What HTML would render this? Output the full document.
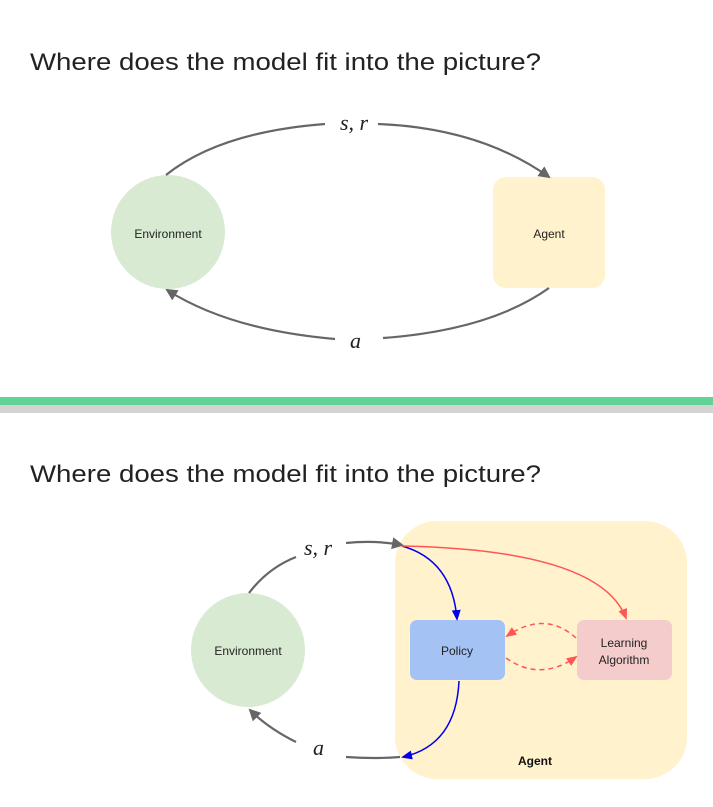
<!DOCTYPE html>
<html><head><style>
body{margin:0;background:#fff;}
svg{display:block;}
text{font-family:"Liberation Sans",sans-serif;}
.m{font-family:"Liberation Serif",serif;font-style:italic;font-size:22px;fill:#222;}
</style></head><body>
<svg width="713" height="807" viewBox="0 0 713 807" xmlns="http://www.w3.org/2000/svg">
<defs>
<marker id="ag" markerWidth="12" markerHeight="12" refX="10" refY="6" orient="auto" markerUnits="userSpaceOnUse"><path d="M0,0 L12,6 L0,12 Z" fill="#666"/></marker>
<marker id="ab" markerWidth="11" markerHeight="11" refX="9" refY="5.5" orient="auto" markerUnits="userSpaceOnUse"><path d="M0,1 L11,5.5 L0,10 Z" fill="#0000ee"/></marker>
<marker id="ar" markerWidth="11" markerHeight="11" refX="9" refY="5.5" orient="auto" markerUnits="userSpaceOnUse"><path d="M0,1 L11,5.5 L0,10 Z" fill="#f55"/></marker>
</defs>
<rect width="713" height="807" fill="#fff"/>
<text x="30" y="70" font-size="24" fill="#222" textLength="511" lengthAdjust="spacingAndGlyphs">Where does the model fit into the picture?</text>
<circle cx="168" cy="232" r="57" fill="#d9ead3"/>
<text x="168" y="238" font-size="12" fill="#222" text-anchor="middle">Environment</text>
<rect x="493" y="177" width="112" height="111" rx="13" fill="#fff2cc"/>
<text x="549" y="238" font-size="12" fill="#222" text-anchor="middle">Agent</text>
<path d="M166,175 Q220,132 325,124" fill="none" stroke="#666" stroke-width="2.2"/>
<path d="M378,124 Q480,128 549,177" fill="none" stroke="#666" stroke-width="2.2" marker-end="url(#ag)"/>
<text x="340" y="130" class="m">s, r</text>
<path d="M549,288 Q490,330 383,338" fill="none" stroke="#666" stroke-width="2.2"/>
<path d="M335,339 Q230,330 167,290" fill="none" stroke="#666" stroke-width="2.2" marker-end="url(#ag)"/>
<text x="350" y="348" class="m">a</text>
<rect x="0" y="397" width="713" height="8" fill="#62d296"/>
<rect x="0" y="405" width="713" height="8" fill="#d3d3d3"/>
<text x="30" y="482" font-size="24" fill="#222" textLength="511" lengthAdjust="spacingAndGlyphs">Where does the model fit into the picture?</text>
<rect x="395" y="521" width="292" height="258" rx="42" fill="#fff2cc"/>
<circle cx="248" cy="650" r="57" fill="#d9ead3"/>
<text x="248" y="655" font-size="12" fill="#222" text-anchor="middle">Environment</text>
<rect x="410" y="620" width="95" height="60" rx="7" fill="#a4c2f4"/>
<text x="457" y="655" font-size="12" fill="#222" text-anchor="middle">Policy</text>
<rect x="577" y="620" width="95" height="60" rx="7" fill="#f4cccc"/>
<text x="624" y="647" font-size="12" fill="#222" text-anchor="middle">Learning</text>
<text x="624" y="664" font-size="12" fill="#222" text-anchor="middle">Algorithm</text>
<text x="535" y="765" font-size="12" font-weight="bold" fill="#111" text-anchor="middle">Agent</text>
<path d="M249,593 Q268,568 296,557" fill="none" stroke="#666" stroke-width="2.2"/>
<path d="M346,543 Q375,540 402,545" fill="none" stroke="#666" stroke-width="2.2" marker-end="url(#ag)"/>
<text x="304" y="555" class="m">s, r</text>
<path d="M296,742 Q268,728 250,710" fill="none" stroke="#666" stroke-width="2.2" marker-end="url(#ag)"/>
<text x="313" y="755" class="m">a</text>
<path d="M346,757 Q375,759 400,757" fill="none" stroke="#666" stroke-width="2.2"/>
<path d="M402,546 Q452,560 457,619" fill="none" stroke="#0000ee" stroke-width="1.5" marker-end="url(#ab)"/>
<path d="M459,681 Q456,745 403,757" fill="none" stroke="#0000ee" stroke-width="1.5" marker-end="url(#ab)"/>
<path d="M402,546 Q600,550 626,618" fill="none" stroke="#f55" stroke-width="1.5" marker-end="url(#ar)"/>
<path d="M576,638 Q545,610 507,636" fill="none" stroke="#f55" stroke-width="1.5" stroke-dasharray="5,4" marker-end="url(#ar)"/>
<path d="M506,658 Q540,682 576,657" fill="none" stroke="#f55" stroke-width="1.5" stroke-dasharray="5,4" marker-end="url(#ar)"/>
</svg>
</body></html>
